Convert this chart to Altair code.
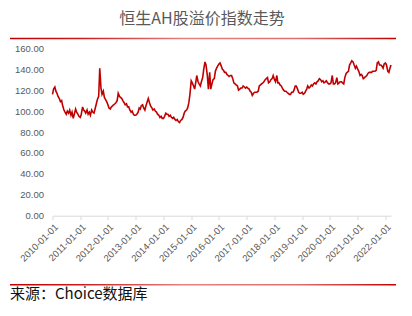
import altair as alt
import pandas as pd

# semi-monthly readings (1st and 15th of each month)
v2010 = [116,121,123,119,117,114,112,109,110,105,101,99,97,100,98,101,96,99,93,97,102,99,97,95]
v2011 = [94,97,104,101,100,98,101,97,99,96,101,99,98,102,107,111,114,141,122,116,119,113,111,109]
v2012 = [106,103,102,104,105,106,107,108,110,117,114,113,112,110,108,106,107,104,104,101,99,100,97,96]
v2013 = [96,97,99,103,102,105,106,103,101,105,109,112,108,105,103,101,102,100,99,97,96,94,95,93]
v2014 = [93,95,98,97,97,95,96,94,93,94,92,91,92,90,89,91,92,94,98,100,101,103,108,116]
v2015 = [129,127,124,121,127,134,128,126,124,128,132,140,147,144,134,121,137,121,126,130,131,138,141,143]
v2016 = [145,146,143,140,139,137,137,135,134,133,134,134,131,127,126,125,124,120,121,122,122,124,123,122]
v2017 = [123,122,121,119,118,115,117,118,118,118,119,124,125,126,127,128,130,131,132,127,128,130,131,134]
v2018 = [130,128,134,127,127,125,124,122,120,119,119,118,117,116,116,118,118,120,124,124,121,118,117,117]
v2019 = [118,116,117,119,121,124,122,123,125,124,126,127,126,128,129,131,130,128,129,127,128,129,127,126]
v2020 = [126,127,134,126,126,127,132,126,127,128,128,127,126,132,136,137,138,144,146,148,147,144,141,143]
v2021 = [140,138,134,135,134,131,132,133,134,136,137,137,137,138,138,138,139,146,147,144,144,143,141,145]
v2022 = [146,144,138,137,141,144]

values = v2010 + v2011 + v2012 + v2013 + v2014 + v2015 + v2016 + v2017 + v2018 + v2019 + v2020 + v2021 + v2022
dates = pd.date_range("2010-01-01", periods=len(values), freq="SMS")
df = pd.DataFrame({"date": dates, "value": values})

tick_dates = [f"{y}-01-01" for y in range(2010, 2023)]
y_ticks = [0, 20, 40, 60, 80, 100, 120, 140, 160]

title_text = "恒生AH股溢价指数走势"
source_text = "来源：Choice数据库"

PL, PT, W, H = 52.5, 48.3, 338.5, 167.4

base = alt.Chart(df)

line = base.mark_line(color="#C00000", strokeWidth=1.6).encode(
    x=alt.X("date:T", title=None,
            axis=alt.Axis(values=[pd.Timestamp(d).isoformat() for d in tick_dates],
                          format="%Y-%m-%d", labelAngle=-45, labelFontSize=9.5,
                          labelColor="#595959", labelFont="Liberation Sans",
                          labelOverlap=False, labelBound=False, labelFlush=False,
                          tickColor="#d9d9d9", tickSize=4, domainColor="#d9d9d9",
                          grid=False, labelPadding=2)),
    y=alt.Y("value:Q", title=None,
            scale=alt.Scale(domain=[0, 160], nice=False),
            axis=alt.Axis(values=y_ticks, format=".2f", domain=False, ticks=False,
                          grid=False, labelFontSize=9.5, labelColor="#595959",
                          labelFont="Liberation Sans", labelPadding=9)),
)

grad = alt.Gradient(
    gradient="linear",
    stops=[
        alt.GradientStop(color="#C00000", offset=0),
        alt.GradientStop(color="#C81A1A", offset=0.18),
        alt.GradientStop(color="#E38282", offset=0.45),
        alt.GradientStop(color="#DD6E6E", offset=0.75),
        alt.GradientStop(color="#C00000", offset=1),
    ],
    x1=0, x2=1, y1=0, y2=0,
)

one = alt.Chart(pd.DataFrame({"k": [0]}))

top_bar = one.mark_rect(fill=grad).encode(
    x=alt.value(10 - PL), x2=alt.value(396 - PL),
    y=alt.value(37.8 - PT), y2=alt.value(39.2 - PT))
bottom_bar = one.mark_rect(fill=grad).encode(
    x=alt.value(10 - PL), x2=alt.value(396 - PL),
    y=alt.value(284 - PT), y2=alt.value(285.4 - PT))

title = one.mark_text(text=title_text, font="Noto Sans CJK SC", fontSize=16,
                      color="#595959", align="center", baseline="alphabetic").encode(
    x=alt.value(202 - PL), y=alt.value(23.5 - PT))
source = one.mark_text(text=source_text, font="Noto Sans CJK SC", fontSize=15,
                       color="#111111", align="left", baseline="alphabetic").encode(
    x=alt.value(10 - PL), y=alt.value(298.5 - PT))

chart = alt.layer(line, top_bar, bottom_bar, title, source).properties(
    width=W, height=H,
    autosize=alt.AutoSizeParams(type="none"),
    padding={"left": PL, "top": PT, "right": 412 - PL - W, "bottom": 316 - PT - H},
).configure_view(stroke=None)

chart.save("out.html", embed_options={"renderer": "svg", "actions": False})
